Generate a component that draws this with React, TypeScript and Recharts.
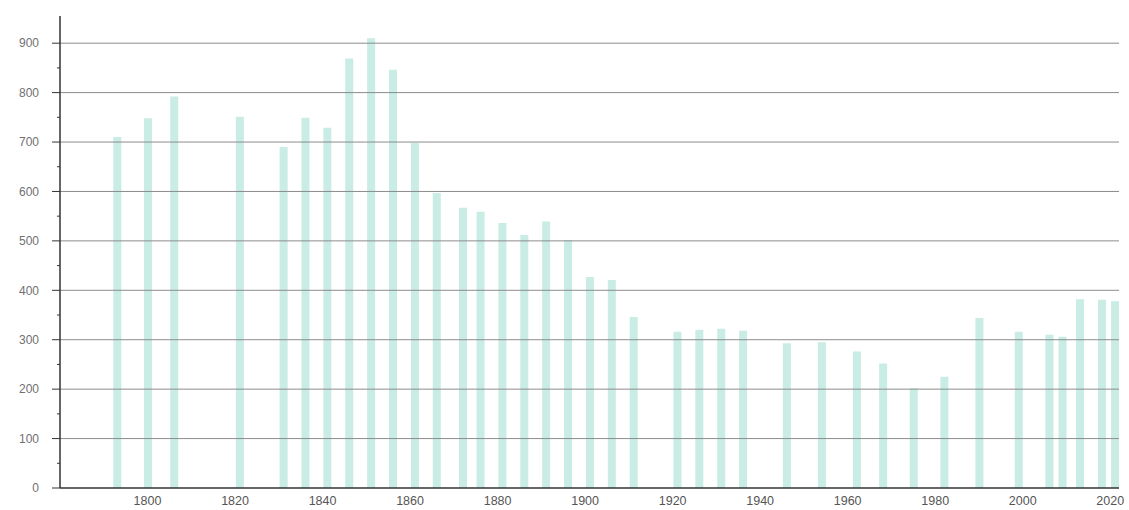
import React from "react";
import { ComposedChart, Bar, XAxis, YAxis, ReferenceLine } from "recharts";

const years = [1793, 1800, 1806, 1821, 1831, 1836, 1841, 1846, 1851, 1856, 1861, 1866, 1872, 1876, 1881, 1886, 1891, 1896, 1901, 1906, 1911, 1921, 1926, 1931, 1936, 1946, 1954, 1962, 1968, 1975, 1982, 1990, 1999, 2006, 2009, 2013, 2018, 2021];
const population = [710, 748, 792, 751, 690, 749, 729, 869, 910, 846, 698, 597, 567, 559, 536, 512, 539, 502, 427, 421, 346, 316, 320, 322, 318, 293, 295, 276, 252, 202, 225, 344, 316, 310, 306, 382, 381, 378];
const xTicks = [1800, 1820, 1840, 1860, 1880, 1900, 1920, 1940, 1960, 1980, 2000, 2020];
const yAllTicks = [0, 50, 100, 150, 200, 250, 300, 350, 400, 450, 500, 550, 600, 650, 700, 750, 800, 850, 900];
const gridValues = [100, 200, 300, 400, 500, 600, 700, 800, 900];

const data = years.map((y, i) => ({ year: y, pop: population[i] }));

const FONT = "'Liberation Sans', Arial, sans-serif";

const YTick = (props: any) => {
  const { x, y, payload } = props;
  const v = payload.value as number;
  const major = v % 100 === 0;
  return (
    <g>
      <line x1={x + 8 - (major ? 8 : 3)} x2={x + 8} y1={y} y2={y} stroke="#333" strokeWidth={1} />
      {major && (
        <text x={x - 13} y={y} dy="0.35em" textAnchor="end" fontSize={12} fill="#707070" fontFamily={FONT}>
          {v}
        </text>
      )}
    </g>
  );
};

export default function App() {
  return (
    <div style={{ position: "absolute", left: 0, top: 0, background: "#fff" }}>
      <ComposedChart
        width={1129}
        height={510}
        data={data}
        margin={{ top: 16, right: 10, left: 0, bottom: 0 }}
      >
        {gridValues.map((v) => (
          <ReferenceLine key={v} y={v} stroke="#8c8c8c" strokeWidth={1} />
        ))}
        <XAxis
          dataKey="year"
          type="number"
          domain={[1780, 2022]}
          ticks={xTicks}
          allowDataOverflow
          height={22}
          tickLine={false}
          axisLine={{ stroke: "#333", strokeWidth: 1.5 }}
          tick={{ fontSize: 12.5, fill: "#555", fontFamily: FONT }}
          interval={0}
        />
        <YAxis
          type="number"
          domain={[0, 955]}
          ticks={yAllTicks}
          width={60}
          interval={0}
          tickLine={false}
          axisLine={{ stroke: "#333", strokeWidth: 1.5 }}
          tick={<YTick />}
          allowDataOverflow
        />
        <Bar dataKey="pop" fill="#c9ece4" barSize={8} isAnimationActive={false} />
      </ComposedChart>
    </div>
  );
}
